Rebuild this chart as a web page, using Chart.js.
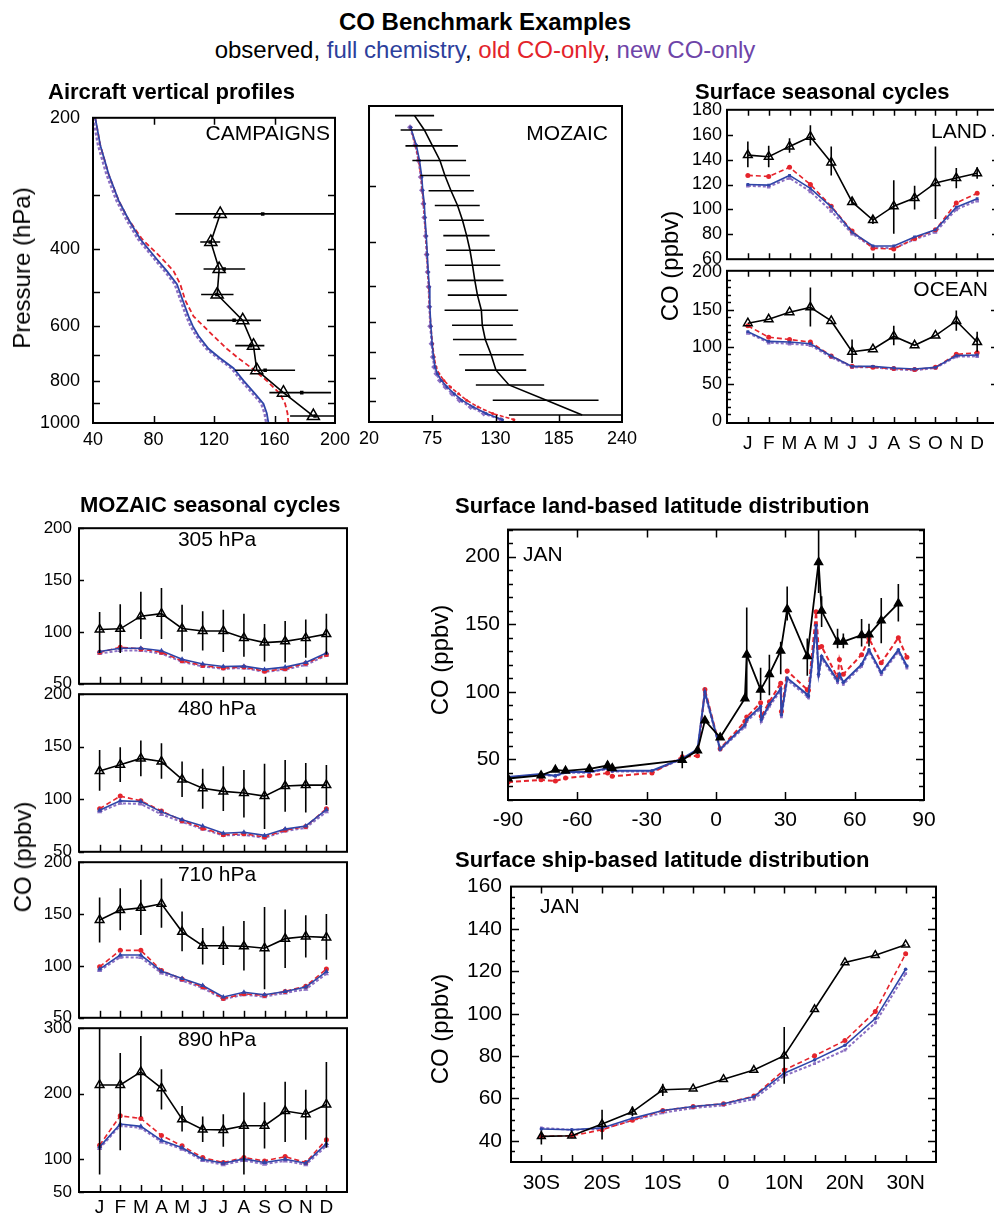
<!DOCTYPE html>
<html>
<head>
<meta charset="utf-8">
<script src="https://cdn.jsdelivr.net/npm/chart.js@4.4.1/dist/chart.umd.min.js"></script>
<style>
  html, body { margin: 0; padding: 0; background: #fff; overflow: hidden; }
  #page { position: relative; width: 994px; height: 1213px; overflow: hidden;
    font-family: "Liberation Sans", Arial, Helvetica, sans-serif; color: #000; }
  #page canvas { position: absolute; }
  .t { position: absolute; white-space: nowrap; line-height: 1; }
  .yl { position: absolute; white-space: nowrap; line-height: 1; font-size: 24px;
    transform: translate(-50%, -50%) rotate(-90deg); }
</style>
</head>
<body>
<div id="page"></div>
<script>
// ---- data ----
const MONTHS = ["J", "F", "M", "A", "M", "J", "J", "A", "S", "O", "N", "D"];
const MONTH_POS = [1, 2, 3, 4, 5, 6, 7, 8, 9, 10, 11, 12];

// aircraft campaigns (CO ppbv vs pressure hPa)
const campObsP = [332, 385, 444, 508, 582, 665, 757, 852, 964];
const campObs = [124.1, 117.9, 123.4, 122.1, 139.0, 146.1, 148.3, 165.9, 185.7];
const campObsLo = [94.4, 110.9, 113.1, 111.5, 115.3, 134.0, 134.0, 156.6, 170.3];
const campObsHi = [210, 124.1, 140.6, 132.9, 151.1, 153.3, 173.6, 197.4, 210];
const campMedian = [152.2, 117.5, 126.7, 121.9, 133.3, 144.3, 153.8, 178.0, 186.8];
const campModelP = [200, 231, 269, 309, 342, 379, 420, 449, 481, 524, 570, 600, 632, 676, 711, 749, 800, 858, 903, 950, 1000];
const campFull = [41.5, 44.8, 50.3, 56.9, 63.5, 71.2, 81.8, 88.9, 95.5, 99.4, 103.2, 106.0, 109.8, 116.4, 124.1, 132.9, 139.5, 147.2, 152.7, 154.9, 156.0];
const campOld = [41.5, 44.8, 50.3, 56.9, 63.5, 72.4, 85.6, 93.3, 97.7, 101.0, 106.5, 113.1, 119.7, 128.5, 136.2, 145.0, 154.9, 163.7, 167.0, 168.6, 169.2];
const campNew = [40.0, 43.3, 48.8, 55.4, 62.0, 69.7, 80.3, 87.4, 94.0, 97.9, 101.7, 104.5, 108.3, 114.9, 122.6, 131.4, 138.0, 145.7, 151.2, 153.4, 154.5];

// MOZAIC profile
const mozObsP = [210, 226, 245, 264, 285, 308, 332, 358, 387, 417, 450, 486, 524, 566, 611, 657, 710, 768, 828, 895, 965];
const mozObs = [59.6, 68.1, 75.2, 81.7, 86.0, 91.3, 97.0, 101.3, 104.9, 107.8, 110.0, 112.0, 114.3, 117.7, 118.5, 121.1, 126.2, 130.4, 141.7, 174.3, 205.4];
const mozObsLo = [42.6, 47.5, 51.7, 57.7, 64.7, 71.8, 77.2, 80.9, 84.6, 87.1, 86.0, 87.9, 88.5, 85.7, 92.2, 93.0, 98.4, 103.5, 112.9, 127.6, 141.7];
const mozObsHi = [76.6, 83.7, 97.3, 104.4, 107.8, 111.2, 116.3, 119.9, 124.8, 129.6, 134.1, 136.9, 139.8, 149.7, 145.1, 148.3, 154.5, 156.7, 172.3, 219.6, 245];
const mozModelP = [223, 244, 264, 287, 307, 329, 353, 388, 426, 466, 502, 556, 614, 671, 718, 756, 782, 809, 837, 866, 895, 926, 958, 988];
const mozFull = [56.2, 61.1, 63.9, 65.9, 66.7, 68.1, 68.7, 69.8, 70.7, 71.5, 72.4, 72.9, 73.8, 74.9, 76.1, 77.5, 79.5, 82.9, 87.9, 94.2, 100.7, 110.6, 121.9, 136.1];
const mozOld = [56.2, 60.5, 63.3, 65.3, 66.4, 67.6, 68.4, 69.5, 70.4, 71.2, 72.1, 72.7, 73.8, 75.2, 76.6, 78.3, 80.8, 85.1, 90.8, 97.9, 104.9, 114.8, 127.6, 146.0];
const mozNew = [55.7, 60.2, 63.0, 65.0, 66.1, 67.3, 68.1, 69.3, 70.1, 71.0, 71.8, 72.4, 73.2, 74.4, 75.5, 76.6, 78.6, 81.7, 86.5, 92.2, 98.7, 108.3, 119.7, 134.7];

// surface seasonal cycles
const landObs = [143.6, 142.3, 150.6, 158.4, 137.7, 106.0, 91.4, 102.6, 109.1, 121.3, 125.2, 129.1];
const landLo = [133.8, 133.8, 145.5, 151.4, 127.3, 104.0, 88.3, 80.5, 100.0, 92.2, 116.9, 124.7];
const landHi = [154.5, 151.2, 157.1, 167.5, 150.6, 109.0, 94.8, 123.4, 119.0, 150.6, 133.2, 133.8];
const landFull = [120.0, 119.5, 127.3, 116.9, 102.1, 81.8, 70.6, 70.6, 77.9, 83.6, 101.8, 108.6];
const landOld = [127.3, 126.5, 133.8, 120.0, 102.6, 82.6, 68.8, 68.1, 76.6, 83.6, 105.2, 113.0];
const landNew = [119.0, 118.2, 125.2, 114.3, 98.7, 80.5, 69.6, 68.8, 75.8, 81.8, 100.0, 107.0];

const oceanObs = [131.7, 137.0, 146.5, 153.0, 134.8, 93.5, 97.0, 114.3, 102.2, 115.2, 134.8, 106.5];
const oceanLo = [null, null, null, 127.4, null, 78.3, null, 102.2, null, null, 121.7, 93.5];
const oceanHi = [null, null, null, 179.6, null, 110.0, null, 128.3, null, null, 148.7, 120.4];
const oceanFull = [120.4, 107.4, 106.5, 104.3, 87.8, 73.9, 73.9, 71.7, 70.4, 72.6, 88.3, 89.1];
const oceanOld = [128.3, 113.0, 110.0, 106.5, 87.8, 73.9, 72.6, 70.9, 69.6, 72.6, 90.0, 92.2];
const oceanNew = [118.7, 105.7, 104.3, 102.2, 86.1, 72.6, 72.6, 70.0, 68.7, 71.7, 87.0, 87.4];

// MOZAIC seasonal cycles
const moz305Obs = [102.4, 103.0, 115.2, 117.6, 103.3, 100.9, 100.9, 94.2, 89.7, 90.9, 94.2, 97.9];
const moz305Lo = [79.7, 79.7, 93.3, 93.3, 81.2, 82.1, 80.6, 76.1, 71.5, 70.6, 75.2, 78.2];
const moz305Hi = [119.1, 126.7, 138.8, 142.4, 126.1, 120.0, 121.5, 117.6, 107.6, 110.6, 112.1, 117.6];
const moz305Full = [81.2, 84.2, 84.2, 81.8, 73.6, 69.1, 66.7, 67.0, 63.9, 66.1, 70.6, 79.7];
const moz305Old = [80.3, 85.2, 83.6, 80.3, 72.1, 67.6, 65.2, 66.1, 62.1, 64.5, 69.7, 78.2];
const moz305New = [79.1, 82.1, 82.1, 79.1, 71.2, 66.7, 64.5, 65.2, 61.5, 63.6, 68.2, 77.3];

const moz480Obs = [126.9, 132.9, 138.9, 135.9, 118.9, 110.5, 107.5, 106.0, 103.0, 112.6, 113.5, 113.5];
const moz480Lo = [108.1, 116.5, 121.9, 119.5, 102.1, 91.0, 88.9, 82.6, 71.6, 88.0, 87.4, 94.6];
const moz480Hi = [147.0, 149.4, 156.0, 153.3, 135.9, 129.0, 131.4, 127.8, 133.8, 137.4, 134.4, 132.6];
const moz480Full = [89.5, 98.5, 97.9, 88.0, 80.5, 74.6, 67.7, 68.6, 65.6, 71.6, 74.6, 90.1];
const moz480Old = [91.0, 103.0, 98.5, 88.9, 79.6, 72.5, 66.2, 67.1, 64.1, 70.7, 74.0, 91.0];
const moz480New = [88.0, 96.1, 95.5, 85.6, 78.4, 71.6, 65.6, 66.2, 63.2, 69.8, 72.8, 88.0];

const moz710Obs = [144.3, 153.9, 156.0, 159.9, 132.9, 119.5, 119.5, 118.9, 117.1, 126.3, 128.4, 127.5];
const moz710Lo = [122.5, 134.4, 129.9, 136.8, 114.1, 101.5, 100.9, 95.5, 77.5, 97.9, 108.1, 106.0];
const moz710Hi = [165.9, 174.9, 183.2, 184.4, 152.4, 136.5, 138.3, 143.4, 156.9, 154.5, 148.8, 150.0];
const moz710Full = [97.0, 110.5, 110.5, 94.9, 88.0, 81.1, 70.1, 74.6, 72.2, 75.4, 79.6, 94.6];
const moz710Old = [99.1, 115.0, 115.0, 95.5, 87.4, 79.9, 68.6, 73.1, 71.6, 75.4, 80.5, 97.0];
const moz710New = [95.5, 108.4, 108.1, 93.1, 85.9, 78.7, 68.0, 72.2, 70.4, 74.0, 77.5, 92.5];

const moz890Obs = [213.4, 213.4, 233.3, 208.5, 161.2, 145.3, 144.8, 151.2, 151.2, 173.6, 168.7, 183.6];
const moz890Lo = [76.6, 113.9, 165.0, 176.1, 142.3, 126.4, 118.9, 76.6, 116.4, 126.4, 129.9, 117.4];
const moz890Hi = [310, 262.2, 288.0, 237.3, 181.1, 165.2, 168.7, 202.0, 187.1, 218.4, 206.0, 248.3];
const moz890Full = [118.9, 153.7, 150.2, 128.9, 117.4, 100.0, 94.0, 100.5, 95.0, 100.0, 94.0, 123.9];
const moz890Old = [121.4, 166.2, 162.2, 136.3, 120.4, 102.5, 95.0, 102.5, 97.5, 104.0, 95.0, 129.9];
const moz890New = [116.4, 151.2, 147.8, 126.4, 115.4, 98.0, 91.5, 98.0, 92.5, 97.5, 91.5, 120.4];

// surface land stations, January
const landLat = [-90, -75.7, -69.5, -65.1, -54.8, -46.9, -44.9, -27.7, -14.6, -8.0, -4.8, 1.8, 12.5, 13.3, 19.3, 19.6, 23.1, 28.0, 28.3, 30.8, 39.5, 40.0, 43.3, 44.4, 45.7, 52.6, 53.4, 55.1, 63.0, 66.2, 71.5, 78.9, 82.6];
const latObs = [35.9, 38.2, 42.3, 41.6, 43.0, 45.5, 43.5, null, 49.5, 56.7, 78.8, 66.3, 95.1, 127.5, 101.6, null, 113.1, 130.4, null, 161.1, 126.3, null, null, 195.9, 159.9, 137.1, null, 137.1, 141.9, 142.4, 152.7, 165.4, null];
const latLo = [null, null, null, null, null, 41.7, null, null, 43.5, 54.0, null, null, null, 93.4, 94.0, null, 97.5, 113.1, null, 152.7, 111.9, null, null, 173.1, 147.9, 132.3, null, 132.3, 133.5, 133.5, 135.9, 152.0, null];
const latHi = [null, null, null, null, null, 48.9, null, null, 56.0, 59.0, null, null, null, 162.3, 117.9, null, 127.5, 137.1, null, 177.9, 139.5, null, null, 225.0, 170.7, 146.7, null, 143.1, 153.9, 150.3, 169.5, 179.8, null];
const latFull = [37.0, 39.2, 38.0, 40.7, 40.7, 43.5, 41.6, 41.6, 50.7, 57.5, 99.9, 57.5, 75.5, 79.5, 89.1, 79.5, 90.8, 102.3, 83.1, 110.2, 98.0, 97.0, 149.1, 113.1, 126.3, 108.3, 113.1, 107.1, 120.3, 131.1, 114.3, 131.1, 119.1];
const latOld = [33.2, 34.9, 34.0, 36.3, 38.0, 40.0, 37.5, 40.0, 51.9, 52.7, 101.8, 57.9, 78.0, 81.4, 92.0, 81.9, 92.7, 106.4, 85.5, 115.5, 101.6, 101.1, 159.2, 132.8, 133.5, 110.7, 123.9, 113.1, 127.5, 139.5, 121.5, 140.0, 125.6];
const latNew = [36.5, 38.7, 37.5, 40.2, 40.2, 43.0, 41.1, 41.1, 50.2, 56.5, 98.4, 57.0, 74.0, 78.0, 87.6, 78.0, 89.3, 100.8, 81.6, 108.7, 96.5, 95.5, 147.6, 111.6, 124.8, 106.8, 111.6, 105.6, 118.8, 129.6, 112.8, 129.6, 117.6];

// ship-based latitude distribution, January
const shipLat = [-30, -25, -20, -15, -10, -5, 0, 5, 10, 15, 20, 25, 30];
const shipObs = [42.1, 42.4, 47.9, 53.7, 64.1, 64.6, 69.1, 73.4, 80.2, 102.1, 124.2, 127.6, 132.6];
const shipLo = [38.3, null, 40.6, 51.7, 61.2, null, null, null, 66.9, null, null, null, null];
const shipHi = [44.9, null, 54.7, 56.2, 66.9, null, null, null, 93.7, null, null, null, null];
const shipFull = [45.6, 45.2, 46.1, 50.6, 54.3, 56.2, 57.5, 60.8, 71.9, 78.2, 85.1, 97.7, 121.0];
const shipOld = [42.1, 42.4, 45.2, 49.7, 54.3, 56.2, 57.5, 61.1, 73.4, 80.2, 87.3, 101.0, 128.3];
const shipNew = [46.1, 45.2, 45.6, 49.7, 53.2, 55.5, 56.7, 59.7, 70.7, 76.4, 82.8, 95.7, 118.9];
const shipTicks = [-30, -20, -10, 0, 10, 20, 30];
const shipTickLabels = ["30S", "20S", "10S", "0", "10N", "20N", "30N"];

// ---- styles ----
const BLACK = "#000";
const BLUE = "#2f45a8";
const RED = "#e5242c";
const PURPLE = "#8b6fc3";
const FONT = '"Liberation Sans", Arial, Helvetica, sans-serif';
Chart.defaults.font.family = FONT;
Chart.defaults.color = "#000";

const page = document.getElementById("page");

function xy(xs, ys) {
  return xs.map((x, i) => ({ x: x, y: ys[i] }));
}

// error bars drawn from dataset.errLo / errHi through the chart scales
const errorBars = {
  id: "errorBars",
  afterDatasetsDraw(chart) {
    const ctx = chart.ctx;
    const a = chart.chartArea;
    ctx.save();
    ctx.beginPath();
    ctx.rect(a.left, a.top, a.right - a.left, a.bottom - a.top);
    ctx.clip();
    chart.data.datasets.forEach((ds, di) => {
      if (!ds.errLo) return;
      const meta = chart.getDatasetMeta(di);
      const sx = chart.scales[meta.xAxisID];
      const sy = chart.scales[meta.yAxisID];
      ctx.strokeStyle = ds.borderColor;
      ctx.lineWidth = ds.errWidth || 1.6;
      ds.errLo.forEach((lo, i) => {
        const hi = ds.errHi[i];
        if (lo == null || hi == null) return;
        const pt = meta.data[i];
        ctx.beginPath();
        if (ds.errDir === "x") {
          ctx.moveTo(sx.getPixelForValue(lo), pt.y);
          ctx.lineTo(sx.getPixelForValue(hi), pt.y);
        } else {
          ctx.moveTo(pt.x, sy.getPixelForValue(lo));
          ctx.lineTo(pt.x, sy.getPixelForValue(hi));
        }
        ctx.stroke();
      });
    });
    ctx.restore();
  },
};

// box + inward tick marks
function makeFrame(cfg) {
  return {
    id: "frame",
    afterDraw(chart) {
      const ctx = chart.ctx;
      const a = chart.chartArea;
      const sx = chart.scales.x;
      const sy = chart.scales.y;
      ctx.save();
      ctx.strokeStyle = "#000";
      ctx.lineWidth = 1.5;
      (cfg.x || []).forEach((t) => {
        t.v.forEach((v) => {
          const px = Math.round(sx.getPixelForValue(v)) + 0.5;
          ctx.beginPath();
          if (t.sides.includes("b")) { ctx.moveTo(px, a.bottom); ctx.lineTo(px, a.bottom - t.len); }
          if (t.sides.includes("t")) { ctx.moveTo(px, a.top); ctx.lineTo(px, a.top + t.len); }
          ctx.stroke();
        });
      });
      (cfg.y || []).forEach((t) => {
        t.v.forEach((v) => {
          const py = Math.round(sy.getPixelForValue(v)) + 0.5;
          ctx.beginPath();
          if (t.sides.includes("l")) { ctx.moveTo(a.left, py); ctx.lineTo(a.left + t.len, py); }
          if (t.sides.includes("r")) { ctx.moveTo(a.right, py); ctx.lineTo(a.right - t.len, py); }
          ctx.stroke();
        });
      });
      ctx.lineWidth = 2;
      ctx.strokeRect(a.left, a.top, a.right - a.left, a.bottom - a.top);
      ctx.restore();
    },
  };
}

function axis(type, min, max, ticks, opts) {
  return {
    type: type,
    min: min,
    max: max,
    reverse: !!opts.reverse,
    grid: { display: false, drawTicks: false },
    border: { display: false },
    afterBuildTicks: (s) => { s.ticks = ticks.map((v) => ({ value: v })); },
    ticks: {
      display: opts.show !== false,
      font: { size: opts.size || 18, family: FONT },
      color: "#000",
      padding: opts.pad || 6,
      autoSkip: false,
      maxRotation: 0,
      minRotation: 0,
      callback: opts.cb || ((v) => String(v)),
    },
  };
}

function panel(box, pad, xAxis, yAxis, datasets, frameCfg) {
  const cv = document.createElement("canvas");
  cv.width = box.w + pad.l + pad.r;
  cv.height = box.h + pad.t + pad.b;
  cv.style.left = box.x - pad.l + "px";
  cv.style.top = box.y - pad.t + "px";
  page.appendChild(cv);
  xAxis.afterFit = (s) => { s.height = pad.b; };
  yAxis.afterFit = (s) => { s.width = pad.l; };
  return new Chart(cv, {
    type: "scatter",
    data: { datasets: datasets },
    options: {
      responsive: false,
      animation: false,
      devicePixelRatio: 1,
      events: [],
      layout: { padding: { left: 0, right: pad.r, top: pad.t, bottom: 0 } },
      plugins: { legend: { display: false }, tooltip: { enabled: false } },
      scales: { x: xAxis, y: yAxis },
    },
    plugins: [errorBars, makeFrame(frameCfg)],
  });
}

function obsSet(data, lo, hi, dir, o) {
  return Object.assign({
    data: data, showLine: true, spanGaps: true,
    borderColor: BLACK, backgroundColor: "rgba(0,0,0,0)", borderWidth: 1.6,
    pointStyle: "triangle", pointRadius: 5, pointBorderWidth: 1.5,
    pointBorderColor: BLACK, pointBackgroundColor: "rgba(0,0,0,0)",
    errLo: lo, errHi: hi, errDir: dir,
  }, o || {});
}

function modelSet(data, color, dash, o) {
  return Object.assign({
    data: data, showLine: true, spanGaps: true,
    borderColor: color, backgroundColor: color, borderWidth: 1.6, borderDash: dash,
    pointStyle: "circle", pointRadius: 2, pointBorderWidth: 0,
    pointBackgroundColor: color,
  }, o || {});
}

function text(str, x, y, size, anchor, bold) {
  const d = document.createElement("div");
  d.className = "t";
  d.innerHTML = str;
  d.style.left = x + "px";
  d.style.top = y + "px";
  d.style.fontSize = size + "px";
  if (bold) d.style.fontWeight = "bold";
  const tx = anchor === "r" ? "-100%" : anchor === "c" ? "-50%" : "0";
  d.style.transform = "translate(" + tx + ",-50%)";
  page.appendChild(d);
}

function ylabel(str, x, y) {
  const d = document.createElement("div");
  d.className = "yl";
  d.textContent = str;
  d.style.left = x + "px";
  d.style.top = y + "px";
  page.appendChild(d);
}

// ---- aircraft vertical profiles: campaigns ----
panel(
  { x: 93, y: 108, w: 242, h: 315 },
  { l: 60, r: 22, t: 14, b: 34 },
  axis("linear", 40, 200, [40, 80, 120, 160, 200], { size: 18, pad: 6 }),
  axis("logarithmic", 200, 1000, [200, 400, 600, 800, 1000], { size: 18, pad: 13, reverse: true }),
  [
    obsSet(xy(campObs, campObsP), campObsLo, campObsHi, "x", { pointRadius: 7 }),
    { data: xy(campMedian, campObsP), showLine: false, pointStyle: "rect", pointRadius: 2.5,
      pointBackgroundColor: BLACK, pointBorderColor: BLACK, pointBorderWidth: 0 },
    modelSet(xy(campFull, campModelP), BLUE, [], { pointRadius: 0, borderWidth: 1.8 }),
    modelSet(xy(campOld, campModelP), RED, [5, 3], { pointRadius: 0, borderWidth: 1.8 }),
    modelSet(xy(campNew, campModelP), PURPLE, [3, 2], { pointRadius: 0, borderWidth: 2.4 }),
  ],
  {
    x: [{ v: [80, 120, 160], len: 7, sides: "bt" }],
    y: [{ v: [300, 400, 500, 600, 700, 800, 900], len: 7, sides: "lr" }],
  }
);

// ---- aircraft vertical profiles: MOZAIC ----
panel(
  { x: 363, y: 106, w: 259, h: 316 },
  { l: 10, r: 26, t: 14, b: 34 },
  axis("linear", 20, 240, [20, 75, 130, 185, 240], { size: 18, pad: 6 }),
  axis("logarithmic", 200, 1000, [200, 1000], { show: false, reverse: true }),
  [
    obsSet(xy(mozObs, mozObsP), mozObsLo, mozObsHi, "x", { pointRadius: 0 }),
    modelSet(xy(mozFull, mozModelP), BLUE, [], { pointRadius: 1.5 }),
    modelSet(xy(mozOld, mozModelP), RED, [4, 2], { pointRadius: 1.5 }),
    modelSet(xy(mozNew, mozModelP), PURPLE, [3, 2], { pointStyle: "rectRot", pointRadius: 3, borderWidth: 2 }),
  ],
  {
    x: [{ v: [75, 130, 185], len: 7, sides: "b" }],
    y: [{ v: [300, 400, 500, 600, 700, 800, 900], len: 7, sides: "l" }],
  }
);

// ---- surface seasonal cycles ----
const seasonalModels = (full, old, nw, o) => [
  modelSet(xy(MONTH_POS, full), BLUE, [], Object.assign({ pointStyle: "rect", pointRadius: 2 }, o || {})),
  modelSet(xy(MONTH_POS, old), RED, [5, 3], { pointRadius: 2.5 }),
  modelSet(xy(MONTH_POS, nw), PURPLE, [3, 2], Object.assign({ pointStyle: "rect", pointRadius: 2.5, borderWidth: 2 }, o || {})),
];

panel(
  { x: 727, y: 108, w: 271, h: 155 },
  { l: 40, r: 10, t: 14, b: 12 },
  axis("linear", 0, 13, MONTH_POS, { show: false }),
  axis("linear", 60, 180, [60, 80, 100, 120, 140, 160, 180], { size: 18, pad: 5 }),
  [obsSet(xy(MONTH_POS, landObs), landLo, landHi, "y")].concat(seasonalModels(landFull, landOld, landNew)),
  {
    x: [{ v: MONTH_POS, len: 6, sides: "bt" }],
    y: [{ v: [80, 100, 120, 140, 160], len: 6, sides: "lr" }],
  }
);

panel(
  { x: 727, y: 267, w: 271, h: 156 },
  { l: 40, r: 10, t: 12, b: 34 },
  axis("linear", 0, 13, MONTH_POS, { size: 19, pad: 9, cb: (v) => MONTHS[v - 1] }),
  axis("linear", -2, 202, [0, 50, 100, 150, 200], { size: 18, pad: 5 }),
  [obsSet(xy(MONTH_POS, oceanObs), oceanLo, oceanHi, "y")].concat(seasonalModels(oceanFull, oceanOld, oceanNew)),
  {
    x: [{ v: MONTH_POS, len: 6, sides: "bt" }],
    y: [
      { v: [50, 100, 150], len: 7, sides: "lr" },
      { v: [10, 20, 30, 40, 60, 70, 80, 90, 110, 120, 130, 140, 160, 170, 180, 190], len: 4, sides: "l" },
    ],
  }
);

// ---- MOZAIC seasonal cycles ----
const mozPanels = [
  { y: 523, h: 166, max: 200, ticks: [50, 100, 150, 200], obs: moz305Obs, lo: moz305Lo, hi: moz305Hi, full: moz305Full, old: moz305Old, nw: moz305New },
  { y: 689, h: 168, max: 200, ticks: [50, 100, 150, 200], obs: moz480Obs, lo: moz480Lo, hi: moz480Hi, full: moz480Full, old: moz480Old, nw: moz480New },
  { y: 857, h: 166, max: 200, ticks: [50, 100, 150, 200], obs: moz710Obs, lo: moz710Lo, hi: moz710Hi, full: moz710Full, old: moz710Old, nw: moz710New },
  { y: 1023, h: 169, max: 300, ticks: [50, 100, 200, 300], obs: moz890Obs, lo: moz890Lo, hi: moz890Hi, full: moz890Full, old: moz890Old, nw: moz890New },
];
mozPanels.forEach((p, i) => {
  const last = i === mozPanels.length - 1;
  panel(
    { x: 79, y: p.y, w: 268, h: p.h },
    { l: 50, r: 12, t: 12, b: last ? 22 : 12 },
    axis("linear", 0, 13, MONTH_POS, { show: last, size: 19, pad: 4, cb: (v) => MONTHS[v - 1] }),
    axis("linear", 50, p.max, p.ticks, { size: 17, pad: 7 }),
    [obsSet(xy(MONTH_POS, p.obs), p.lo, p.hi, "y", { pointRadius: 5 })].concat(
      seasonalModels(p.full, p.old, p.nw, { pointStyle: "triangle", pointRadius: 3 })
    ),
    {
      x: [{ v: MONTH_POS, len: 7, sides: "b" }],
      y: [{ v: p.ticks, len: 5, sides: "l" }],
    }
  );
});

// ---- surface land-based latitude distribution ----
const tens20to220 = [20, 30, 40, 60, 70, 80, 90, 110, 120, 130, 140, 160, 170, 180, 190, 210, 220];
panel(
  { x: 508, y: 521, w: 416, h: 279 },
  { l: 60, r: 26, t: 12, b: 36 },
  axis("linear", -90, 90, [-90, -60, -30, 0, 30, 60, 90], { size: 21, pad: 8 }),
  axis("linear", 20, 220, [50, 100, 150, 200], { size: 21, pad: 8 }),
  [
    obsSet(xy(landLat, latObs), latLo, latHi, "y", { pointRadius: 4.5, pointBackgroundColor: BLACK, borderWidth: 1.8 }),
    modelSet(xy(landLat, latFull), BLUE, [], { pointRadius: 1.8, borderWidth: 2 }),
    modelSet(xy(landLat, latOld), RED, [5, 3], { pointRadius: 2.5, borderWidth: 2 }),
    modelSet(xy(landLat, latNew), PURPLE, [3, 2], { pointStyle: "rect", pointRadius: 2, borderWidth: 2 }),
  ],
  {
    x: [{ v: [-60, -30, 0, 30, 60], len: 8, sides: "bt" }],
    y: [
      { v: [50, 100, 150, 200], len: 8, sides: "lr" },
      { v: tens20to220, len: 5, sides: "lr" },
    ],
  }
);

// ---- surface ship-based latitude distribution ----
panel(
  { x: 511, y: 877, w: 425, h: 285 },
  { l: 60, r: 30, t: 12, b: 40 },
  axis("linear", -35, 35, shipTicks, { size: 21, pad: 9, cb: (v) => shipTickLabels[shipTicks.indexOf(v)] }),
  axis("linear", 30, 160, [40, 60, 80, 100, 120, 140, 160], { size: 21, pad: 9 }),
  [
    obsSet(xy(shipLat, shipObs), shipLo, shipHi, "y", { pointRadius: 4.5 }),
    modelSet(xy(shipLat, shipFull), BLUE, [], { pointRadius: 1.8 }),
    modelSet(xy(shipLat, shipOld), RED, [5, 3], { pointRadius: 2.5 }),
    modelSet(xy(shipLat, shipNew), PURPLE, [3, 2], { pointStyle: "rect", pointRadius: 2, borderWidth: 2 }),
  ],
  {
    x: [{ v: [-30, -25, -20, -15, -10, -5, 0, 5, 10, 15, 20, 25, 30], len: 7, sides: "bt" }],
    y: [
      { v: [40, 60, 80, 100, 120, 140], len: 8, sides: "lr" },
      { v: [35, 45, 50, 55, 65, 70, 75, 85, 90, 95, 105, 110, 115, 125, 130, 135, 145, 150, 155], len: 4, sides: "lr" },
    ],
  }
);

// ---- text ----
text("CO Benchmark Examples", 485, 22, 24, "c", true);
text('observed, <span style="color:#2d3f9c">full chemistry</span>, <span style="color:#e3232b">old CO-only</span>, <span style="color:#6e44a8">new CO-only</span>', 485, 50, 24, "c", false);

text("Aircraft vertical profiles", 48, 92, 22, "l", true);
text("Surface seasonal cycles", 695, 92, 22, "l", true);
text("MOZAIC seasonal cycles", 80, 505, 22, "l", true);
text("Surface land-based latitude distribution", 455, 506, 22, "l", true);
text("Surface ship-based latitude distribution", 455, 860, 22, "l", true);

text("CAMPAIGNS", 330, 132, 21, "r");
text("MOZAIC", 608, 132, 21, "r");
text("LAND", 987, 130, 21, "r");
text("OCEAN", 988, 288, 21, "r");
text("305 hPa", 217, 538, 21, "c");
text("480 hPa", 217, 707, 21, "c");
text("710 hPa", 217, 873, 21, "c");
text("890 hPa", 217, 1038, 21, "c");
text("JAN", 523, 553, 21, "l");
text("JAN", 540, 905, 21, "l");

ylabel("Pressure (hPa)", 22, 268);
ylabel("CO (ppbv)", 670, 266);
ylabel("CO (ppbv)", 23, 857);
ylabel("CO (ppbv)", 440, 660);
ylabel("CO (ppbv)", 440, 1029);
</script>
</body>
</html>
